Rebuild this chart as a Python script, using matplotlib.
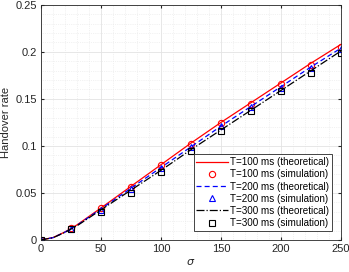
import matplotlib.pyplot as plt
from matplotlib.ticker import MultipleLocator

# --- data ---
sigma_th = [0, 10, 20, 30, 40, 50, 75, 100, 125, 150, 175, 200, 225, 250]
th_100 = [0, 0.0025, 0.0085, 0.016, 0.025, 0.034, 0.057, 0.080, 0.103, 0.125, 0.146, 0.167, 0.188, 0.208]
th_200 = [0, 0.0024, 0.0083, 0.0155, 0.0243, 0.033, 0.055, 0.077, 0.099, 0.121, 0.142, 0.163, 0.184, 0.204]
th_300 = [0, 0.0023, 0.0080, 0.015, 0.0235, 0.032, 0.053, 0.074, 0.096, 0.117, 0.138, 0.159, 0.180, 0.201]

sigma_sim = [0, 25, 50, 75, 100, 125, 150, 175, 200, 225, 250]
sim_100 = [0, 0.0125, 0.0335, 0.0565, 0.0795, 0.102, 0.124, 0.145, 0.166, 0.186, 0.205]
sim_200 = [0, 0.012, 0.032, 0.054, 0.077, 0.099, 0.121, 0.141, 0.162, 0.183, 0.203]
sim_300 = [0, 0.0115, 0.030, 0.050, 0.072, 0.095, 0.116, 0.137, 0.158, 0.178, 0.199]

xticks = [0, 50, 100, 150, 200, 250]
yticks = [0, 0.05, 0.1, 0.15, 0.2, 0.25]
ytick_labels = ["0", "0.05", "0.1", "0.15", "0.2", "0.25"]

plt.rcParams['font.family'] = ['Liberation Sans', 'DejaVu Sans']

fig = plt.figure(figsize=(3.49, 2.72), dpi=100)
ax = fig.add_axes([0.1175, 0.118, 0.8595, 0.864])

ax.plot(sigma_th, th_100, '-', color='red', lw=0.9, label='T=100 ms (theoretical)')
ax.plot(sigma_sim, sim_100, 'o', color='red', mfc='none', ms=4.5, mew=0.8, label='T=100 ms (simulation)')
ax.plot(sigma_th, th_200, '--', color='blue', lw=0.9, dashes=(4, 2.5), label='T=200 ms (theoretical)')
ax.plot(sigma_sim, sim_200, '^', color='blue', mfc='none', ms=4.5, mew=0.8, label='T=200 ms (simulation)')
ax.plot(sigma_th, th_300, '-.', color='black', lw=0.9, label='T=300 ms (theoretical)')
ax.plot(sigma_sim, sim_300, 's', color='black', mfc='none', ms=4, mew=0.8, label='T=300 ms (simulation)')

ax.set_xlim(0, 250)
ax.set_ylim(0, 0.25)
ax.set_xticks(xticks)
ax.set_yticks(yticks)
ax.set_yticklabels(ytick_labels)
ax.xaxis.set_minor_locator(MultipleLocator(10))
ax.yaxis.set_minor_locator(MultipleLocator(0.01))
ax.grid(True, which='major', color='#e3e3e3', lw=0.6)
ax.grid(True, which='minor', color='#e6e6e6', lw=0.5, ls=':')
ax.set_axisbelow(True)
ax.tick_params(which='both', direction='in', top=True, right=True, labelsize=8,
               colors='#262626', length=2.5, pad=3)
ax.tick_params(which='minor', length=0)
for s in ax.spines.values():
    s.set_color('#262626')
    s.set_linewidth(0.6)

ax.set_xlabel(r'$\sigma$', fontsize=8, color='#262626', labelpad=2)
ax.set_ylabel('Handover rate', fontsize=8, color='#262626', labelpad=3)

leg = ax.legend(loc='lower right', bbox_to_anchor=(0.97, 0.038), fontsize=7.1,
                frameon=True, fancybox=False, edgecolor='#262626', framealpha=1,
                handlelength=3.2, handletextpad=0.2, borderpad=0.3, labelspacing=0.22,
                borderaxespad=0)
leg.get_frame().set_linewidth(0.6)

fig.savefig('out.png', dpi=100)
